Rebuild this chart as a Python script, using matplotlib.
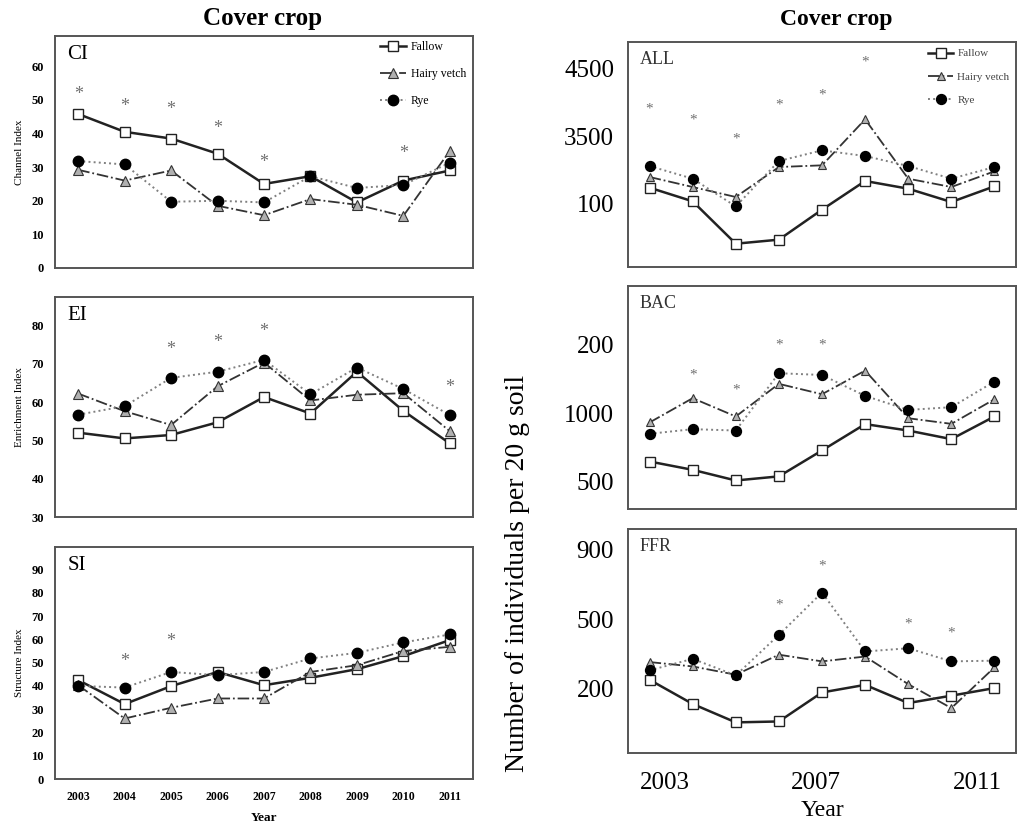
import numpy as np
import matplotlib
matplotlib.use("Agg")
import matplotlib.pyplot as plt

plt.rcParams["font.family"] = ["Liberation Serif", "DejaVu Serif"]

years = [2003, 2004, 2005, 2006, 2007, 2008, 2009, 2010, 2011]
series_names = ["Fallow", "Hairy vetch", "Rye"]

# left column: nematode indices
ci_fallow = [45.8, 40.5, 38.5, 34.0, 25.0, 27.3, 19.5, 26.0, 29.0]
ci_vetch = [29.2, 26.0, 29.0, 18.5, 15.7, 20.5, 18.8, 15.5, 34.8]
ci_rye = [31.8, 30.8, 19.7, 20.0, 19.5, 27.3, 23.8, 24.7, 31.3]
ci_star_years = [2003, 2004, 2005, 2006, 2007, 2010]
ci_star_y = [51.7, 48.0, 47.0, 41.5, 31.5, 34.2]

ei_fallow = [52.0, 50.5, 51.4, 54.7, 61.3, 57.0, 67.9, 57.7, 49.2]
ei_vetch = [62.2, 57.6, 54.0, 64.1, 70.3, 60.4, 61.9, 62.3, 52.4]
ei_rye = [56.7, 58.9, 66.3, 67.9, 71.0, 62.0, 69.0, 63.4, 56.6]
ei_star_years = [2005, 2006, 2007, 2011]
ei_star_y = [73.8, 75.5, 78.4, 63.7]

si_fallow = [42.5, 32.2, 39.9, 46.0, 40.3, 43.5, 47.2, 52.8, 59.7]
si_vetch = [40.3, 26.0, 30.6, 34.6, 34.6, 46.0, 48.9, 55.0, 56.8]
si_rye = [40.0, 39.3, 46.0, 44.6, 46.0, 51.8, 54.2, 58.7, 62.1]
si_star_years = [2004, 2005]
si_star_y = [50.4, 59.0]

# right column: abundances (individuals per 20 g soil)
all_fallow = [2737, 2535, 1907, 1967, 2411, 2836, 2722, 2525, 2757]
all_vetch = [2895, 2747, 2599, 3043, 3068, 3749, 2870, 2747, 2979]
all_rye = [3058, 2870, 2460, 3132, 3290, 3206, 3058, 2870, 3043]
all_star_years = [2003, 2004, 2005, 2006, 2007, 2008]
all_star_y = [3899, 3741, 3459, 3963, 4111, 4595]
all_ticks = [4500, 3500, 2500]
all_ticklabels = ["4500", "3500", "100"]

bac_fallow = [646, 585, 507, 537, 727, 920, 873, 810, 976]
bac_vetch = [932, 1110, 976, 1215, 1139, 1312, 963, 922, 1102]
bac_rye = [849, 883, 873, 1293, 1280, 1127, 1024, 1044, 1232]
bac_star_years = [2004, 2005, 2006, 2007]
bac_star_y = [1276, 1171, 1500, 1500]
bac_ticks = [1500, 1000, 500]
bac_ticklabels = ["200", "1000", "500"]

ffr_fallow = [236, 131, 51, 55, 181, 214, 135, 167, 200]
ffr_vetch = [313, 294, 258, 345, 316, 337, 217, 113, 290]
ffr_rye = [277, 327, 255, 431, 615, 359, 373, 316, 319]
ffr_star_years = [2006, 2007, 2009, 2010]
ffr_star_y = [559, 732, 478, 439]
ffr_ticks = [800, 500, 200]
ffr_ticklabels = ["900", "500", "200"]

right_xticks = [2003.35, 2006.86, 2010.6]
right_xticklabels = ["2003", "2007", "2011"]

W, H = 1018, 831
fig = plt.figure(figsize=(W / 100, H / 100), dpi=100)


def box(l, t, r, b):
    return [l / W, 1 - b / H, (r - l) / W, (b - t) / H]


def draw_lines(ax, fallow, vetch, rye, ms=1.0):
    ax.plot(years, fallow, "-", color="#222222", lw=1.8, marker="s", ms=7.5 * ms,
            mfc="white", mec="#222222", mew=1.0, label=series_names[0], zorder=3)
    ax.plot(years, vetch, "-.", color="#333333", lw=1.3, marker="^", ms=6.5 * ms,
            mfc="#b0b0b0", mec="#333333", mew=0.8, label=series_names[1], zorder=4)
    ax.plot(years, rye, ":", color="#808080", lw=1.4, marker="o", ms=7.5 * ms,
            mfc="black", mec="black", label=series_names[2], zorder=5)


def stars(ax, sx, sy, size):
    for x, y in zip(sx, sy):
        ax.text(x, y, "*", color="#707070", fontsize=size, ha="center", va="center")


def frame(ax):
    for s in ax.spines.values():
        s.set_color("#555555")
        s.set_linewidth(1.4)
    ax.tick_params(length=0)
    ax.set_xlim(2002.5, 2011.5)


# ---------- left column ----------
left_panels = [
    ("CI", "Channel Index", ci_fallow, ci_vetch, ci_rye, ci_star_years, ci_star_y,
     (0, 69), np.arange(0, 61, 10), (55, 36, 473, 268)),
    ("EI", "Enrichment Index", ei_fallow, ei_vetch, ei_rye, ei_star_years, ei_star_y,
     (30, 87.4), np.arange(30, 81, 10), (55, 297, 473, 517)),
    ("SI", "Structure Index", si_fallow, si_vetch, si_rye, si_star_years, si_star_y,
     (0, 99.7), np.arange(0, 91, 10), (55, 547, 473, 779)),
]

for i, (tag, ylab, f, v, r, sx, sy, ylim, yt, pos) in enumerate(left_panels):
    ax = fig.add_axes(box(*pos))
    draw_lines(ax, f, v, r)
    stars(ax, sx, sy, 13)
    frame(ax)
    ax.set_ylim(*ylim)
    ax.set_yticks(yt)
    ax.set_yticklabels([str(t) for t in yt], fontsize=9, fontweight="bold")
    ax.tick_params(axis="y", pad=8)
    ax.set_ylabel(ylab, fontsize=8, labelpad=5)
    ax.text(0.03, 0.96, tag, transform=ax.transAxes, fontsize=15, va="top", ha="left")
    if i == 2:
        ax.set_xticks(years)
        ax.set_xticklabels([str(y) for y in years], fontsize=8.5, fontweight="bold")
        ax.tick_params(axis="x", pad=9)
        ax.set_xlabel("Year", fontsize=9.5, fontweight="bold", labelpad=6)
    else:
        ax.set_xticks([])
    if i == 0:
        ax.legend(loc="upper right", frameon=False, fontsize=8.5, handlelength=2.2,
                  labelspacing=1.3, borderaxespad=0.2, handletextpad=0.4,
                  bbox_to_anchor=(1.0, 1.01))

# ---------- right column ----------
right_panels = [
    ("ALL", all_fallow, all_vetch, all_rye, all_star_years, all_star_y,
     (1562, 4895), all_ticks, all_ticklabels, (628, 42, 1016, 267)),
    ("BAC", bac_fallow, bac_vetch, bac_rye, bac_star_years, bac_star_y,
     (298, 1932), bac_ticks, bac_ticklabels, (628, 286, 1016, 509)),
    ("FFR", ffr_fallow, ffr_vetch, ffr_rye, ffr_star_years, ffr_star_y,
     (-82, 891), ffr_ticks, ffr_ticklabels, (628, 529, 1016, 753)),
]

for i, (tag, f, v, r, sx, sy, ylim, yt, ytl, pos) in enumerate(right_panels):
    ax = fig.add_axes(box(*pos))
    draw_lines(ax, f, v, r, ms=0.95)
    stars(ax, sx, sy, 11)
    frame(ax)
    ax.set_ylim(*ylim)
    ax.set_yticks(yt)
    ax.set_yticklabels(ytl, fontsize=18)
    ax.tick_params(axis="y", pad=10)
    ax.text(0.03, 0.96, tag, transform=ax.transAxes, fontsize=13, va="top", ha="left",
            color="#333333")
    if i == 2:
        ax.set_xticks(right_xticks)
        ax.set_xticklabels(right_xticklabels, fontsize=18)
        ax.tick_params(axis="x", pad=14)
        ax.set_xlabel("Year", fontsize=17, labelpad=4)
    else:
        ax.set_xticks([])
    if i == 0:
        leg = ax.legend(loc="upper right", frameon=False, fontsize=8, handlelength=2.2,
                        labelspacing=1.2, borderaxespad=0.2, handletextpad=0.4)
        for t in leg.get_texts():
            t.set_color("#444444")

fig.text(263 / W, 1 - 19 / H, "Cover crop", fontsize=18, fontweight="bold",
         ha="center", va="center")
fig.text(836 / W, 1 - 19 / H, "Cover crop", fontsize=17, fontweight="bold",
         ha="center", va="center")
fig.text(517 / W, 1 - 573 / H, "Number of individuals per 20 g soil", fontsize=20,
         rotation=90, ha="center", va="center")

fig.savefig("out.png", dpi=100)
